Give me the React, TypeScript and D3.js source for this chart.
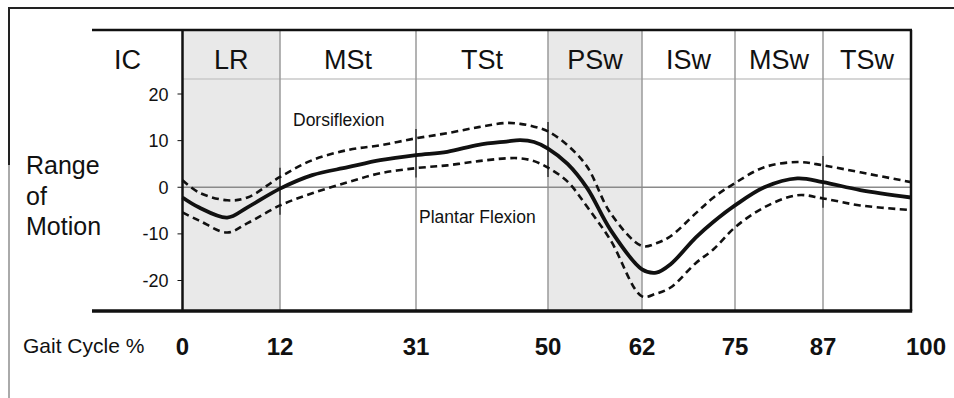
import React from 'react';
import * as d3 from 'd3';

// ---- data ----
const phaseBounds = [0, 12, 31, 50, 62, 75, 87, 100];
const phaseLabels = ['LR', 'MSt', 'TSt', 'PSw', 'ISw', 'MSw', 'TSw'];
const shadedPhases = ['LR', 'PSw'];
const yTicks = [20, 10, 0, -10, -20];
const gaitPct = [0, 2, 5.5, 8, 12, 16.5, 21.5, 26, 31, 35.5, 40, 44, 46, 48, 50, 52.5, 55, 58, 62, 64, 66, 69.5, 72, 75, 79, 83.5, 87, 92.5, 100];
const meanAngle = [-2.2, -4.3, -6.5, -4.3, -0.3, 2.6, 4.3, 5.8, 6.9, 7.6, 9.1, 9.8, 10.1, 9.7, 8.3, 5.0, -0.2, -9.2, -17.6, -18.3, -16.5, -10.8, -7.4, -3.9, 0, 1.9, 1.1, -0.6, -2.2];
const upperAngle = [1.5, -1.1, -2.8, -2.2, 2.2, 5.8, 8.0, 9.0, 10.5, 11.6, 12.9, 13.8, 13.6, 13.0, 12.0, 9.0, 4.4, -5.6, -12.6, -12.0, -10.5, -5.6, -2.2, 0.9, 4.3, 5.4, 4.7, 3.2, 1.1];
const lowerAngle = [-5.4, -7.1, -9.7, -7.7, -3.9, -1.3, 1.1, 3.0, 4.1, 4.7, 5.6, 6.2, 6.2, 5.6, 4.2, 1.2, -4.2, -11.4, -23.4, -22.8, -21.5, -16.3, -13.3, -8.6, -4.3, -1.7, -2.4, -3.9, -4.9];
const markerPct = [12, 31, 50, 87];

// ---- layout ----
const W = 954;
const H = 398;
const boundaryPx = [182.5, 280, 416, 548, 642, 735, 823, 911];
const plotTop = 30;
const plotBottom = 311;
const frameLeft = 92;
const headerLine = 79;
const FONT = "'Liberation Sans', Arial, Helvetica, sans-serif";

export default function App() {
  const x = d3.scaleLinear().domain(phaseBounds).range(boundaryPx);
  const y = d3.scaleLinear().domain([-20, 20]).range([280.5, 94]);
  const xL = x(0);
  const xR = x(100);

  const mkLine = (vals: number[]) =>
    d3
      .line<number>()
      .x((_, i) => x(gaitPct[i]))
      .y((v) => y(v))
      .curve(d3.curveCatmullRom.alpha(0.5))(vals) || '';

  return (
    <svg
      width={W}
      height={H}
      viewBox={`0 0 ${W} ${H}`}
      style={{ position: 'absolute', left: 0, top: 0, background: '#fff' }}
      fontFamily={FONT}
    >
      <rect x={0} y={0} width={W} height={H} fill="#fff" />
      {/* outer frame */}
      <line x1={9} x2={W} y1={8} y2={8} stroke="#222" strokeWidth={2} />
      <line x1={9} x2={9} y1={7} y2={165} stroke="#222" strokeWidth={2} />
      <line x1={9} x2={9} y1={165} y2={H} stroke="#aaa" strokeWidth={2} />

      {/* shaded phases */}
      {phaseLabels.map((p, i) =>
        shadedPhases.includes(p) ? (
          <rect
            key={'s' + p}
            x={x(phaseBounds[i])}
            y={plotTop}
            width={x(phaseBounds[i + 1]) - x(phaseBounds[i])}
            height={plotBottom - plotTop}
            fill="#e9e9e9"
          />
        ) : null
      )}

      {/* header separator */}
      <line x1={xL} x2={xR} y1={headerLine} y2={headerLine} stroke="#c8c8c8" strokeWidth={1.5} />

      {/* vertical phase lines */}
      {phaseBounds.slice(1, -1).map((b) => (
        <line key={'v' + b} x1={x(b)} x2={x(b)} y1={plotTop} y2={plotBottom} stroke="#9a9a9a" strokeWidth={1.5} />
      ))}

      {/* zero line */}
      <line x1={xL} x2={xR} y1={y(0)} y2={y(0)} stroke="#8a8a8a" strokeWidth={1.5} />

      {/* markers where curves cross phase lines */}
      {markerPct.map((m) => {
        const i = gaitPct.indexOf(m);
        return (
          <line
            key={'m' + m}
            x1={x(m)}
            x2={x(m)}
            y1={y(upperAngle[i] + 2)}
            y2={y(lowerAngle[i] - 2)}
            stroke="#111"
            strokeWidth={1.2}
          />
        );
      })}

      {/* plot frame */}
      <line x1={frameLeft} x2={xR + 1} y1={plotTop} y2={plotTop} stroke="#111" strokeWidth={2.5} />
      <line x1={xL} x2={xL} y1={plotTop} y2={plotBottom} stroke="#111" strokeWidth={2.5} />
      <line x1={xR} x2={xR} y1={plotTop} y2={plotBottom} stroke="#111" strokeWidth={2.5} />
      <line x1={frameLeft} x2={xR + 1.2} y1={plotBottom} y2={plotBottom} stroke="#111" strokeWidth={3.5} />

      {/* y ticks */}
      {yTicks.map((t) => (
        <g key={'y' + t}>
          <line x1={xL - 5} x2={xL} y1={y(t)} y2={y(t)} stroke="#111" strokeWidth={1} />
          <text x={xL - 14} y={y(t) + 6.5} textAnchor="end" fontSize={18} fill="#111">
            {t}
          </text>
        </g>
      ))}

      {/* curves */}
      <path d={mkLine(upperAngle)} fill="none" stroke="#111" strokeWidth={2.6} strokeDasharray="7 4.5" />
      <path d={mkLine(lowerAngle)} fill="none" stroke="#111" strokeWidth={2.6} strokeDasharray="7 4.5" />
      <path d={mkLine(meanAngle)} fill="none" stroke="#111" strokeWidth={3.8} strokeLinejoin="round" />

      {/* header labels */}
      <text x={xL - 55} y={69} textAnchor="middle" fontSize={27} fill="#111">IC</text>
      {phaseLabels.map((p, i) => (
        <text
          key={'h' + p}
          x={(x(phaseBounds[i]) + x(phaseBounds[i + 1])) / 2}
          y={69}
          textAnchor="middle"
          fontSize={27}
          fill="#111"
        >
          {p}
        </text>
      ))}

      {/* annotations */}
      <text x={x(12) + 13} y={126} fontSize={17.5} fill="#111">Dorsiflexion</text>
      <text x={x(31) + 3} y={223} fontSize={17.5} fill="#111">Plantar Flexion</text>

      {/* y title */}
      <text x={26} y={174} fontSize={25} fill="#111">Range</text>
      <text x={26} y={204.5} fontSize={25} fill="#111">of</text>
      <text x={26} y={235} fontSize={25} fill="#111">Motion</text>

      {/* x axis labels */}
      <text x={23} y={353} fontSize={21} fill="#111">Gait Cycle %</text>
      {phaseBounds.map((b, i) => (
        <text
          key={'x' + b}
          x={x(b) + (i === phaseBounds.length - 1 ? 15 : 0)}
          y={355}
          textAnchor="middle"
          fontSize={24}
          fontWeight="bold"
          fill="#111"
        >
          {b}
        </text>
      ))}
    </svg>
  );
}
